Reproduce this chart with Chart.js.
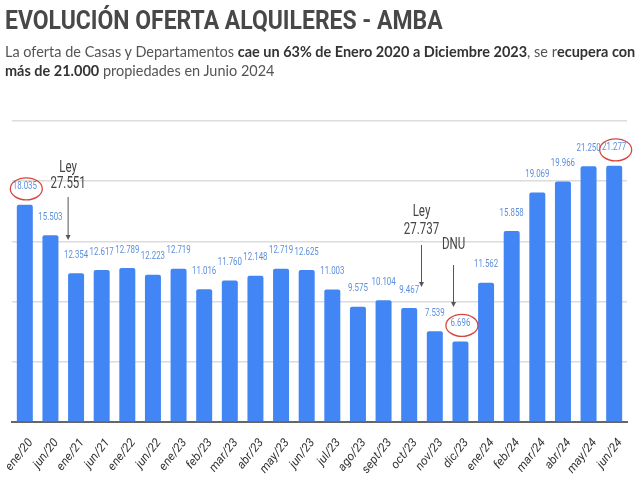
<!DOCTYPE html>
<html>
<head>
<meta charset="utf-8">
<script src="https://cdn.jsdelivr.net/npm/chart.js@4"></script>
<style>
  html, body { margin: 0; padding: 0; background: #fff; }
  #wrap { position: relative; width: 640px; height: 480px; overflow: hidden; }
  #chart { position: absolute; left: 0; top: 0; }
  .txt { position: absolute; left: 5px; white-space: nowrap; transform-origin: 0 0; }
  #title { top: 6px; font: bold 25px Roboto, sans-serif; color: #484848; }
  #sub1 { top: 42px; font: 15px Lato, sans-serif; color: #555; }
  #sub2 { top: 61px; font: 15px Lato, sans-serif; color: #555; }
  .txt b { color: #333; }
</style>
</head>
<body>
<div id="wrap">
  <canvas id="chart" width="640" height="480"></canvas>
  <div id="title" class="txt">EVOLUCIÓN OFERTA ALQUILERES - AMBA</div>
  <div id="sub1" class="txt">La oferta de Casas y Departamentos <b>cae un 63% de Enero 2020 a Diciembre 2023</b>, se r<b>ecupera con</b></div>
  <div id="sub2" class="txt"><b>más de 21.000</b> propiedades en Junio 2024</div>
</div>
<script>
// Data
const months = ['ene/20', 'jun/20', 'ene/21', 'jun/21', 'ene/22', 'jun/22', 'ene/23', 'feb/23',
    'mar/23', 'abr/23', 'may/23', 'jun/23', 'jul/23', 'ago/23', 'sept/23', 'oct/23',
    'nov/23', 'dic/23', 'ene/24', 'feb/24', 'mar/24', 'abr/24', 'may/24', 'jun/24'];
const offers = [18035, 15503, 12354, 12617, 12789, 12223, 12719, 11016,
    11760, 12148, 12719, 12625, 11003, 9575, 10104, 9467,
    7539, 6696, 11562, 15858, 19069, 19966, 21250, 21277];
const circled = [0, 17, 23];
const notes = [
    { lines: ['Ley', '27.551'], at: 1.69, textY: [21100, 19770], arrow: [18690, 15120] },
    { lines: ['Ley', '27.737'], at: 15.48, textY: [17440, 15950], arrow: [14700, 11210] },
    { lines: ['DNU'], at: 16.73, textY: [14700], arrow: [13040, 9550] }
];

// fit header text widths
function fitWidth(id, w) {
    const el = document.getElementById(id);
    const s = w / el.scrollWidth;
    el.style.transform = 'scaleX(' + s + ')';
    return s;
}
fitWidth('title', 438);
const s1 = fitWidth('sub1', 630);
document.getElementById('sub2').style.transform = 'scaleX(' + s1 + ')';

function fmt(v) {
    return String(v).replace(/\B(?=(\d{3})+(?!\d))/g, '.');
}

function squeezeText(ctx, text, x, y, sx) {
    ctx.save();
    ctx.translate(x, y);
    ctx.scale(sx, 1);
    ctx.fillText(text, 0, 0);
    ctx.restore();
}

const extras = {
    id: 'extras',
    afterDatasetsDraw(chart) {
        const ctx = chart.ctx;
        const xs = chart.scales.x, ys = chart.scales.y;
        const meta = chart.getDatasetMeta(0);
        ctx.save();
        ctx.textAlign = 'center';
        ctx.textBaseline = 'middle';

        // value labels
        ctx.font = '10.5px Roboto, sans-serif';
        ctx.fillStyle = '#5d8fdc';
        meta.data.forEach((bar, i) => {
            squeezeText(ctx, fmt(offers[i]), bar.x, bar.y - 18, 0.75);
        });

        // red circles
        ctx.strokeStyle = '#d8463f';
        ctx.lineWidth = 1.3;
        circled.forEach(i => {
            const bar = meta.data[i];
            ctx.beginPath();
            ctx.ellipse(bar.x + 1.5, bar.y - 16, 16, 11, 0, 0, Math.PI * 2);
            ctx.stroke();
        });

        // notes with arrows
        const step = xs.getPixelForValue(1) - xs.getPixelForValue(0);
        const x0 = xs.getPixelForValue(0);
        notes.forEach(n => {
            const x = x0 + n.at * step;
            ctx.fillStyle = '#444';
            ctx.font = '16px Roboto, sans-serif';
            n.lines.forEach((t, k) => squeezeText(ctx, t, x, ys.getPixelForValue(n.textY[k]), 0.72));
            const ya = ys.getPixelForValue(n.arrow[0]);
            const yb = ys.getPixelForValue(n.arrow[1]);
            ctx.strokeStyle = '#555';
            ctx.lineWidth = 1;
            ctx.beginPath();
            ctx.moveTo(x, ya);
            ctx.lineTo(x, yb - 3);
            ctx.stroke();
            ctx.fillStyle = '#555';
            ctx.beginPath();
            ctx.moveTo(x - 2.5, yb - 5);
            ctx.lineTo(x + 2.5, yb - 5);
            ctx.lineTo(x, yb);
            ctx.closePath();
            ctx.fill();
        });
        ctx.restore();
    }
};

const ctx = document.getElementById('chart').getContext('2d');
new Chart(ctx, {
    type: 'bar',
    data: {
        labels: months,
        datasets: [{
            data: offers,
            backgroundColor: '#4285f4',
            borderRadius: 2,
            borderSkipped: 'bottom',
            categoryPercentage: 0.8,
            barPercentage: 0.78
        }]
    },
    options: {
        responsive: false,
        animation: false,
        layout: { padding: { top: 121, left: 12, right: 13, bottom: 0 } },
        plugins: { legend: { display: false }, tooltip: { enabled: false } },
        scales: {
            x: {
                afterFit(scale) {
                    scale.height = 58;
                    scale.paddingLeft = 0;
                    scale.paddingRight = 0;
                },
                grid: { display: false },
                border: { color: '#666', width: 2 },
                ticks: {
                    color: '#333',
                    font: { family: 'Roboto', size: 12, style: 'italic' },
                    minRotation: 52,
                    maxRotation: 52,
                    padding: 6,
                    labelOffset: 6
                }
            },
            y: {
                min: 0,
                max: 25000,
                afterFit(scale) { scale.width = 0; },
                ticks: { display: false, stepSize: 5000 },
                grid: { color: '#dcdcdc', lineWidth: 1.5, drawTicks: false },
                border: { display: false }
            }
        }
    },
    plugins: [extras]
});
</script>
</body>
</html>
